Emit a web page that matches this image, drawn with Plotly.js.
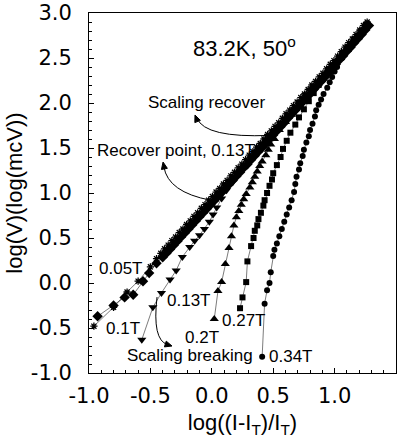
<!DOCTYPE html>
<html>
<head>
<meta charset="utf-8">
<script src="https://cdn.plot.ly/plotly-3.0.1.min.js"></script>
<style>html,body{margin:0;padding:0;background:#fff;}#chart{width:410px;height:438px;}</style>
</head>
<body>
<div id="chart"></div>
<script>
// 0.05T (diamonds)
const x005 = [-0.93,-0.80,-0.71,-0.64,-0.56,-0.51,-0.45,-0.40,-0.37,-0.34,-0.31,-0.28,-0.25,-0.22,-0.19,-0.16,-0.13,-0.10,-0.07,-0.04,-0.01,0.02,0.05,0.08,0.11,0.14,0.17,0.20,0.23,0.26,0.29,0.32,0.35,0.38,0.41,0.44,0.47,0.50,0.53,0.56,0.59,0.62,0.65,0.68,0.71,0.74,0.77,0.80,0.83,0.86,0.89,0.92,0.95,0.98,1.01,1.04,1.07,1.10,1.13,1.16,1.19,1.22,1.25,1.28];
const y005 = [-0.37,-0.25,-0.16,-0.13,0.02,0.11,0.22,0.285,0.33,0.375,0.42,0.465,0.51,0.555,0.60,0.645,0.69,0.735,0.78,0.825,0.87,0.915,0.96,1.005,1.05,1.095,1.14,1.185,1.23,1.28,1.32,1.37,1.415,1.46,1.505,1.55,1.60,1.645,1.69,1.735,1.78,1.83,1.875,1.92,1.965,2.01,2.055,2.10,2.15,2.195,2.24,2.285,2.335,2.385,2.43,2.48,2.525,2.575,2.62,2.67,2.715,2.76,2.81,2.86];
// 0.1T (asterisks)
const x01 = [-0.96,-0.80,-0.69,-0.60,-0.50,-0.45,-0.415,-0.385,-0.355,-0.325,-0.295,-0.265,-0.235,-0.205,-0.175,-0.145,-0.115,-0.085,-0.055,-0.025,0.005,0.035,0.065,0.095,0.125,0.155,0.185,0.215,0.245,0.275,0.305,0.335,0.365,0.395,0.425,0.455,0.485,0.515,0.545,0.575,0.605,0.635,0.665,0.695,0.725,0.755,0.785,0.815,0.845,0.875,0.905,0.935,0.965,0.995,1.025,1.055,1.085,1.115,1.145,1.175,1.205,1.235,1.265];
const y01 = [-0.48,-0.27,-0.10,0.02,0.18,0.27,0.33,0.38,0.42,0.47,0.51,0.56,0.60,0.65,0.69,0.74,0.78,0.83,0.87,0.92,0.96,1.01,1.05,1.10,1.14,1.19,1.23,1.28,1.32,1.37,1.42,1.46,1.51,1.55,1.60,1.65,1.69,1.74,1.78,1.83,1.88,1.92,1.97,2.01,2.06,2.10,2.15,2.20,2.24,2.29,2.33,2.38,2.43,2.47,2.52,2.57,2.62,2.67,2.71,2.76,2.81,2.86,2.90];
// 0.13T (down triangles)
const x013 = [-0.57,-0.48,-0.41,-0.34,-0.29,-0.24,-0.18,-0.14,-0.10,-0.06,-0.02,0.01,0.04,0.08,0.12,0.17,0.22,0.27,0.32,0.37,0.42,0.47,0.52,0.57,0.62,0.67,0.72,0.77,0.82,0.87,0.92,0.97,1.02,1.07,1.12,1.17,1.22,1.26];
const y013 = [-0.63,-0.27,-0.11,0.04,0.14,0.29,0.40,0.47,0.53,0.60,0.68,0.76,0.84,0.94,1.03,1.12,1.21,1.30,1.38,1.46,1.54,1.62,1.70,1.78,1.86,1.93,2.01,2.09,2.16,2.24,2.31,2.39,2.46,2.55,2.63,2.71,2.79,2.86];
// 0.2T (up triangles)
const x02 = [0.02,0.05,0.08,0.11,0.14,0.16,0.18,0.20,0.22,0.24,0.26,0.28,0.31,0.33,0.35,0.37,0.39,0.41,0.44,0.46,0.48,0.51,0.55,0.60,0.65,0.70,0.75,0.80,0.85,0.90,0.95,1.00,1.05,1.10,1.15,1.20,1.25];
const y02 = [-0.40,-0.09,0.01,0.21,0.39,0.52,0.64,0.73,0.80,0.87,0.93,0.99,1.06,1.12,1.18,1.24,1.30,1.35,1.42,1.48,1.54,1.60,1.70,1.79,1.87,1.95,2.03,2.11,2.19,2.27,2.34,2.42,2.50,2.59,2.67,2.76,2.84];
// 0.27T (squares)
const x027 = [0.23,0.25,0.28,0.29,0.32,0.34,0.35,0.37,0.38,0.40,0.42,0.43,0.45,0.47,0.49,0.50,0.53,0.56,0.58,0.61,0.64,0.68,0.71,0.75,0.79,0.83,0.87,0.91,0.96,1.01,1.06,1.11,1.16,1.21,1.26];
const y027 = [-0.28,-0.16,0.01,0.24,0.41,0.50,0.58,0.64,0.71,0.78,0.86,0.92,1.00,1.08,1.15,1.22,1.31,1.40,1.49,1.58,1.67,1.76,1.84,1.93,2.02,2.11,2.20,2.28,2.36,2.44,2.53,2.62,2.71,2.79,2.87];
// 0.34T (circles)
const x034 = [0.41,0.43,0.45,0.47,0.48,0.50,0.51,0.53,0.55,0.57,0.59,0.61,0.63,0.65,0.67,0.68,0.69,0.71,0.72,0.74,0.75,0.77,0.79,0.80,0.82,0.84,0.85,0.87,0.89,0.91,0.94,0.96,0.98,1.00,1.02,1.06,1.10,1.14,1.18,1.22,1.26];
const y034 = [-0.82,-0.23,-0.08,0.00,0.12,0.30,0.37,0.44,0.52,0.60,0.68,0.76,0.84,0.92,1.01,1.10,1.18,1.26,1.33,1.41,1.48,1.56,1.63,1.70,1.77,1.85,1.92,1.98,2.04,2.10,2.17,2.23,2.29,2.35,2.40,2.50,2.58,2.66,2.74,2.81,2.87];

const xTicks = [-1.0,-0.5,0.0,0.5,1.0,1.5];
const xTickText = ['-1.0','-0.5','0.0','0.5','1.0','1.5'];
const yTicks = [-1.0,-0.5,0.0,0.5,1.0,1.5,2.0,2.5,3.0];
const yTickText = ['-1.0','-0.5','0.0','0.5','1.0','1.5','2.0','2.5','3.0'];

const lineStyle = {color:'#444', width:0.7};
function tr(x, y, name, marker){
  return {x:x, y:y, name:name, type:'scatter', mode:'lines+markers', line:lineStyle, marker:marker, showlegend:false, hoverinfo:'skip'};
}
const data = [
  tr(x034, y034, '0.34T', {symbol:'circle', size:6, color:'#000'}),
  tr(x027, y027, '0.27T', {symbol:'square', size:6, color:'#000'}),
  tr(x02, y02, '0.2T', {symbol:'triangle-up', size:8, color:'#000'}),
  tr(x013, y013, '0.13T', {symbol:'triangle-down', size:8, color:'#000'}),
  tr(x01, y01, '0.1T', {symbol:'asterisk-open', size:6, color:'#000', line:{color:'#000', width:1.3}}),
  tr(x005, y005, '0.05T', {symbol:'diamond', size:8, color:'#000'})
];

const af = {family:'Liberation Sans, Arial, sans-serif', size:17, color:'#000'};
function txt(x, y, t, anchor, font){
  return {x:x, y:y, xref:'x', yref:'y', text:t, showarrow:false, xanchor:anchor||'center', yanchor:'middle', font:font||af};
}
const annotations = [
  txt(0.27, 2.62, '83.2K, 50<sup>o</sup>', 'center', {family:'Liberation Sans, Arial, sans-serif', size:22, color:'#000'}),
  txt(-0.04, 2.01, 'Scaling recover'),
  txt(-0.95, 1.47, 'Recover point, 0.13T', 'left'),
  txt(-0.74, 0.16, '0.05T'),
  txt(-0.38, -0.19, '0.13T', 'left'),
  txt(-0.72, -0.50, '0.1T'),
  txt(-0.08, -0.61, '0.2T'),
  txt(0.066, -0.42, '0.27T', 'left'),
  txt(-0.18, -0.81, 'Scaling breaking'),
  txt(0.45, -0.82, '0.34T', 'left')
];
const curve = {color:'#000', width:1};
const headStyle = {type:'path', xref:'x', yref:'y', fillcolor:'#000', line:{color:'#000', width:1}};
const shapes = [
  {type:'path', xref:'x', yref:'y', path:'M 0.475 1.64 Q -0.055 1.61 -0.12 1.83', line:curve},
  {type:'path', xref:'x', yref:'y', path:'M -0.01 0.92 Q -0.357 1.01 -0.39 1.29', line:curve},
  {type:'path', xref:'x', yref:'y', path:'M -0.446 -0.156 Q -0.487 -0.633 -0.36 -0.685', line:curve},
  Object.assign({path:'M -0.137 1.867 L -0.093 1.807 L -0.138 1.782 Z'}, headStyle),
  Object.assign({path:'M -0.397 1.344 L -0.362 1.274 L -0.410 1.261 Z'}, headStyle),
  Object.assign({path:'M -0.324 -0.700 L -0.386 -0.710 L -0.371 -0.646 Z'}, headStyle)
];

const tickFont = {family:'DejaVu Sans, sans-serif', size:21, color:'#000'};
const titleFont = {family:'Liberation Sans, Arial, sans-serif', size:22, color:'#000'};
const layout = {
  width:410, height:438,
  margin:{l:89, r:14, t:13, b:65},
  paper_bgcolor:'#fff', plot_bgcolor:'#fff',
  xaxis:{range:[-1,1.5], tickmode:'array', tickvals:xTicks, ticktext:xTickText, ticks:'inside', ticklen:5, tickcolor:'#000',
    minor:{dtick:0.1, ticks:'inside', ticklen:3, tickcolor:'#000'},
    showline:true, linecolor:'#000', linewidth:1, mirror:true, showgrid:false, zeroline:false,
    tickfont:tickFont, ticklabelstandoff:4,
    title:{text:'log((I-I<sub>T</sub>)/I<sub>T</sub>)', font:titleFont, standoff:18}},
  yaxis:{range:[-1,3], tickmode:'array', tickvals:yTicks, ticktext:yTickText, ticks:'inside', ticklen:5, tickcolor:'#000',
    minor:{dtick:0.1, ticks:'inside', ticklen:3, tickcolor:'#000'},
    showline:true, linecolor:'#000', linewidth:1, mirror:true, showgrid:false, zeroline:false,
    tickfont:tickFont, ticklabelstandoff:12,
    title:{text:'log(V)(log(mcV))', font:titleFont, standoff:2}},
  annotations:annotations,
  shapes:shapes
};
Plotly.newPlot('chart', data, layout, {displayModeBar:false, staticPlot:true});
</script>
</body>
</html>
